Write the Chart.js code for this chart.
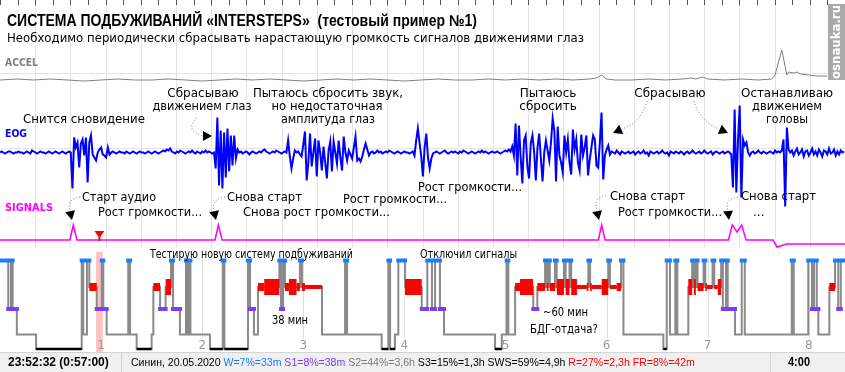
<!DOCTYPE html>
<html>
<head>
<meta charset="utf-8">
<script src="https://cdn.jsdelivr.net/npm/chart.js@4.4.1/dist/chart.umd.min.js"></script>
<style>
html, body { margin: 0; padding: 0; background: #fff; overflow: hidden; }
#wrap { width: 845px; height: 372px; }
</style>
</head>
<body>
<div id="wrap"><canvas id="sleepChart" width="845" height="372"></canvas></div>
<script>

// recording length in minutes (x axis), hour marks every 60 min
const RECORD_END_MIN = 501.5;
const HOUR_LABELS = ['1', '2', '3', '4', '5', '6', '7', '8'];

// EOG, one sample per minute
const EOG_STEP_MIN = 1;
const EOG_VALUES = [
    0, 1, 0, -1, 0, 1, 1, 0, -1, 0,
    0, 1, 0, 0, -1, 0, 1, 0, -1, 2,
    1, 0, -1, 0, 1, 0, 0, -1, 0, 1,
    0, -1, 0, 1, 0, -1, 0, 1, 0, -1,
    0, 1, 0,
    -36, 15, 5, 10, -15, 9, 13, -3, 15, -30, 10, 17, -2, -5, -8, 0, 3, 5, -2, -3, -5, 5, -2, 0, 1,
    0, -1, 0, 1, 0, 0, -1, 1, 0, -1,
    0, 1, 0, -1, 0, 1, 0, 0, -1, 0,
    1, 0, -1, 0, 1, 0, -1, 0, 1, 2,
    1, 3, 2, 4, 1, 0, -1, 1, 0, 2,
    1, 0, -1, 0, 1, 0, 2, 0, -1, 1,
    0, -1, 1, 0, 2, 0, 1, 0, -1, 0,
    -16, 35, -33, 22, -36, 20, -25, 24, -19, 17, -13, 17, -6, 3, 0,
    1, -1, 0, 1, 0, -2, 0, 1, 0, -1,
    0, 1, 0, 2, 3, 1, 0, -1, 0, 1,
    0, 2, 1, 0, -1, 0, 1,
    0, 12, -4, -16, -6, 2, 0, 1, -2, -4,
    8, 21, -28, -10, 19, -14, 0, 14, -24, 12,
    0, -18, 6, -10, -26, 2, 11, -19, 11, 0,
    -11, 12, -5, -18, 16, 0, -8, 2, -2, -6,
    5, 16, -8, -6, -9, -4, 3, 9, 3, -3,
    0, 1, -1, 0, 2, 0,
    1, -1, 0, 1, 0, 2, 1, 0, -1, 0, 1, 0, -1, 0, 1, 0, 0, -1, 0, 1,
    -3, 12, 24, 10, -4, -24, 5, 19, -5, -16, -6, -1, 0,
    1, 0, -1, 0, 1, 2, 0, -1, 0, 1,
    0, 1, 0, -1, 1, 0, 2, 1, 0, -1,
    0, 1, 0, -1, 0, 1, 0, 2, 0, 1,
    0, -1, 0, 1, 0, 0, 1, 0, -1, 0,
    1, 2, 1, 3,
    1, 6, -3, 29, -23, 27, -4, -31, 12, 17,
    -14, -26, 9, 17, 1, -28, 5, 19, -6, -29,
    0, 12, 2, -8, 10, 34, 22, -29, 26, -3,
    -10, -20, 17, 0, 13, -10, -22, 23, 3, 13,
    -10, -18, 18, -3, 5, 17, -23, -7, 5, 17,
    13, -13, -15, 10, 40, -27, -3, 3, 7, -2,
    1,
    0, -1, 2, 0, -2, 1, 0, -1, 0, 1,
    -1, 0, 1, -2, 0, 1, -1, 0, 2, -1,
    0, -3, 1, 0, -1, 0, 1, -1, 0, 2,
    0, -1, 0, -3, 1, 0, -1, 1, 0, -1,
    1, 0, -2, 0, 1, -1, 0, 2, 0, -1,
    0, 1, -1, 0, 2, 0, -1, 0, 1, -2,
    0, 1, 0, -1, 0, 1, -1, 0, 1, 0,
    -2, -35, 43, -40, 13, 47, -45, 13, 7, 10, 0, -3,
    0, 1, -1, 0, 2, 0, -1, 1, 0, -1, 0, 1, 0, -1, 2, 0, 1, 0,
    2, 13, -54, 25, 3, 0,
    2, -3, 1, 4, -2, 0, 3, -4, 1, 2,
    -3, 0, 4, -2, 1, -3, 3, 0, -4, 2,
    1, -2, 4, -1, 0, 3, -3, 1, -2, 2,
    0, 1
];

// accelerometer
const ACCEL_MIN = [0, 10, 20, 30, 40, 50, 60, 70, 80, 90, 100, 110, 120, 130, 140, 150, 160, 170, 180, 190,
    200, 210, 220, 230, 240, 250, 260, 270, 280, 290, 300, 310, 320, 330, 340, 350,
    354, 357, 360, 365, 375, 385, 395, 405, 410, 413, 417, 420, 430, 440, 450, 458, 460, 464, 467, 468,
    471, 473, 475, 480, 485, 491];
const ACCEL_VALUES = [0, 1, 0, 1, 0, -1, 0, 1, 0, 0, 1, 0, -1, 0, 1, 0, 1, 0, -1, 0,
    1, 0, 1, 0, -1, 0, 1, 0, 0, 1, 0, 1, 0, 1, 0, 1,
    2, 5, 1, 0, 0, 1, 0, 1, 2, 1, 3, 1, 0, 1, 0, 1, 5, 30, 5, 8,
    7, 8, 6, 5, 4, 4];

// wake-up signal volume
const SIGNAL_MIN = [0, 41.5, 43.5, 45.7, 127.6, 129.6, 131.8, 355.1, 357.1, 359.1, 432.3, 434.6, 437.4, 440.2, 442.8, 458.8, 461.2, 466.9, 501.5];
const SIGNAL_VALUES = [0, 0, 15, 0, 0, 15, 0, 0, 15, 0, 0, 15, 8, 15, 0, 0, -7, -4, -4];

// hypnogram: stage starts (min) and stages
const HYPNO_START = [
    0, 4.9, 6.5, 7.5, 10, 21.4, 48.5, 49.4, 51.6, 53,
    57.4, 60.4, 61.3, 63.3, 76.1, 77.2, 81.1, 90, 91, 95,
    98.3, 101.5, 102.7, 106.8, 110.4, 111.3, 111.9, 113, 124.6, 132.2,
    133.2, 147.2, 148.4, 150.7, 153.1, 165.8, 166.8, 168, 169.1, 178,
    179.2, 191.1, 204.8, 206, 226.5, 230.5, 231.5, 234.4, 236.4, 240.4,
    250.3, 253.6, 256.4, 258.2, 261.1, 263.5, 293.8, 297.8, 300.7, 301.7,
    305.7, 316.5, 318.9, 323.5, 324.5, 325.5, 326.3, 329.4, 330.4, 334.7,
    335.7, 338, 339, 349.2, 350.2, 361, 362, 368.6, 370, 393.7,
    395.7, 397.6, 400.8, 402, 408.5, 410.8, 411.8, 413, 414, 417.6,
    418.6, 422.9, 423.9, 428, 429, 430.9, 431.9, 436.2, 440.2, 442,
    469.9, 471.1, 479.7, 481.9, 483.1, 484.7, 485.7, 492.2, 495.6, 497.5,
    499
];
const HYPNO_STAGE = [
    'W', 'S1', 'W', 'S1', 'S2', 'S3', 'W', 'S2', 'W', 'R',
    'S1', 'W', 'S1', 'S2', 'W', 'S2', 'S3', 'S2', 'R', 'S1',
    'R', 'W', 'S1', 'S2', 'W', 'S2', 'W', 'S2', 'S3', 'W',
    'S3', 'W', 'S1', 'S2', 'R', 'W', 'S1', 'W', 'R', 'W',
    'R', 'S2', 'W', 'S2', 'S3', 'W', 'S3', 'S2', 'W', 'R',
    'S1', 'W', 'S1', 'W', 'S1', 'S2', 'S3', 'S2', 'W', 'S2',
    'R', 'S1', 'R', 'W', 'R', 'W', 'R', 'W', 'R', 'W',
    'R', 'W', 'R', 'W', 'R', 'W', 'R', 'W', 'S2', 'S3',
    'W', 'S2', 'W', 'S2', 'R', 'W', 'R', 'W', 'R', 'W',
    'R', 'W', 'R', 'W', 'S1', 'W', 'S1', 'S2', 'W', 'S2',
    'W', 'S2', 'W', 'S1', 'W', 'S1', 'S2', 'R', 'W', 'S1',
    'W'
];

// REM density (1 weak, 2 normal, 3 strong)
const REM_FROM = [50, 88, 98, 150, 156.8, 168, 171.5, 176, 181, 238, 304, 308.6, 316.4, 330.6, 342.4, 348.2, 351.2, 357.1, 361, 366, 407, 413.5, 419.5, 426, 490];
const REM_TO = [57.4, 98, 102, 156.8, 166, 171.5, 176, 181, 192, 252, 308.6, 316.4, 330.6, 342.4, 348.2, 351.2, 357.1, 361, 366, 370, 413.5, 419.5, 426, 429, 497];
const REM_LEVEL = [2, 2, 3, 2, 3, 2, 3, 2, 1, 3, 2, 3, 2, 3, 1, 2, 1, 3, 1, 2, 3, 2, 1, 3, 2];

// cursor position (0:57:00)
const CURSOR_MIN = 57;
const CURSOR_WINDOW_MIN = 4;

const STATUS_PARTS = [
    ['Синин, 20.05.2020 ', '#000'],
    ['W=7%=33m ', '#1a7cff'],
    ['S1=8%=38m ', '#7a3cff'],
    ['S2=44%=3,6h ', '#7a7a7a'],
    ['S3=15%=1,3h ', '#000'],
    ['SWS=59%=4,9h ', '#000'],
    ['R=27%=2,3h ', '#ff0000'],
    ['FR=8%=42m', '#ff0000']
];


// layout / style
const STAGE_ROW = { W: 0, R: 26.5, S1: 48.5, S2: 74, S3: 88.5 };
const REM_WIDTH = { 1: 4, 2: 8, 3: 16 };
const FONT = '"DejaVu Sans", sans-serif';

function stageEnd(i) {
    return i + 1 < HYPNO_START.length ? HYPNO_START[i + 1] : RECORD_END_MIN;
}

function stageLine(stage) {
    const pts = [];
    HYPNO_STAGE.forEach((s, i) => {
        if (s !== stage) return;
        const y = STAGE_ROW[s];
        pts.push({ x: HYPNO_START[i], y: y }, { x: stageEnd(i), y: y }, { x: stageEnd(i), y: null });
    });
    return pts;
}

function remLine(level) {
    const pts = [];
    HYPNO_STAGE.forEach((s, i) => {
        if (s !== 'R') return;
        const a = HYPNO_START[i], b = stageEnd(i);
        REM_FROM.forEach((f, k) => {
            if (REM_LEVEL[k] !== level) return;
            const x0 = Math.max(a, f), x1 = Math.min(b, REM_TO[k]);
            if (x1 <= x0) return;
            pts.push({ x: x0, y: STAGE_ROW.R }, { x: x1, y: STAGE_ROW.R }, { x: x1, y: null });
        });
    });
    return pts;
}

function hypnoSteps() {
    const pts = HYPNO_START.map((t, i) => ({ x: t, y: STAGE_ROW[HYPNO_STAGE[i]] }));
    pts.push({ x: RECORD_END_MIN, y: STAGE_ROW[HYPNO_STAGE[HYPNO_STAGE.length - 1]] });
    return pts;
}

function dottedArrow(ctx, x0, y0, cx, cy, x1, y1, tx, ty) {
    ctx.save();
    ctx.strokeStyle = '#777';
    ctx.lineWidth = 1;
    ctx.setLineDash([1, 2]);
    ctx.beginPath();
    ctx.moveTo(x0, y0);
    ctx.quadraticCurveTo(cx, cy, x1, y1);
    ctx.stroke();
    ctx.setLineDash([]);
    const ang = Math.atan2(ty - y1, tx - x1);
    const len = 9, half = 5;
    const bx = tx - Math.cos(ang) * len, by = ty - Math.sin(ang) * len;
    ctx.fillStyle = '#000';
    ctx.beginPath();
    ctx.moveTo(tx, ty);
    ctx.lineTo(bx - Math.sin(ang) * half, by + Math.cos(ang) * half);
    ctx.lineTo(bx + Math.sin(ang) * half, by - Math.cos(ang) * half);
    ctx.closePath();
    ctx.fill();
    ctx.restore();
}

function label(ctx, text, x, y, maxW, align) {
    ctx.textAlign = align || 'left';
    ctx.fillText(text, x, y, maxW);
}

const overlayPlugin = {
    id: 'overlay',
    beforeDraw(chart) {
        const ctx = chart.ctx;
        ctx.save();
        ctx.fillStyle = '#fff';
        ctx.fillRect(0, 0, chart.width, chart.height);
        ctx.restore();
    },
    beforeDatasetsDraw(chart) {
        const ctx = chart.ctx;
        const xs = chart.scales.x;
        const W = chart.width;
        ctx.save();

        // background grid
        ctx.strokeStyle = '#e4e4e4';
        ctx.lineWidth = 1;
        for (let k = 1; k < 24; k++) {
            const gx = Math.round(k * W / 24) + 0.5;
            ctx.beginPath(); ctx.moveTo(gx, 0); ctx.lineTo(gx, 248); ctx.stroke();
        }
        [73.5, 148.5].forEach(gy => {
            ctx.beginPath(); ctx.moveTo(0, gy); ctx.lineTo(W, gy); ctx.stroke();
        });

        // top ruler
        ctx.strokeStyle = '#555';
        for (let k = 0; k <= 48; k++) {
            const gx = Math.round(k * W / 48) + 0.5;
            ctx.beginPath(); ctx.moveTo(gx, 0); ctx.lineTo(gx, 5); ctx.stroke();
        }

        // hour lines in hypnogram
        ctx.strokeStyle = '#dedede';
        HOUR_LABELS.forEach((h, i) => {
            const hx = Math.round(xs.getPixelForValue((i + 1) * 60)) + 0.5;
            ctx.beginPath(); ctx.moveTo(hx, 258); ctx.lineTo(hx, 338); ctx.stroke();
        });

        // cursor band
        const b0 = xs.getPixelForValue(CURSOR_MIN), b1 = xs.getPixelForValue(CURSOR_MIN + CURSOR_WINDOW_MIN);
        ctx.fillStyle = '#ffc2c2';
        ctx.fillRect(b0, 252, b1 - b0, 100);
        ctx.restore();
    },
    afterDatasetsDraw(chart) {
        const ctx = chart.ctx;
        const xs = chart.scales.x;
        const W = chart.width;
        ctx.save();
        ctx.textBaseline = 'alphabetic';

        // title
        ctx.fillStyle = '#000';
        ctx.font = 'bold 16px "Liberation Sans", sans-serif';
        label(ctx, 'СИСТЕМА ПОДБУЖИВАНИЙ «INTERSTEPS»  (тестовый пример №1)', 7, 26, 470);
        ctx.font = '12.5px ' + FONT;
        label(ctx, 'Необходимо периодически сбрасывать нарастающую громкость сигналов движениями глаз', 7, 42, 577);

        // channel names
        ctx.font = 'bold 10px ' + FONT;
        ctx.fillStyle = '#808080';
        label(ctx, 'ACCEL', 5, 66, 33);
        ctx.fillStyle = '#0000ff';
        label(ctx, 'EOG', 5, 137, 22);
        ctx.fillStyle = '#ff00ff';
        label(ctx, 'SIGNALS', 5, 211, 48);

        // annotations
        ctx.fillStyle = '#000';
        ctx.font = '12px ' + FONT;
        label(ctx, 'Снится сновидение', 23, 123, 122);
        label(ctx, 'Сбрасываю', 203, 97, 74, 'center');
        label(ctx, 'движением глаз', 202, 110, 99, 'center');
        label(ctx, 'Пытаюсь сбросить звук,', 328, 97, 150, 'center');
        label(ctx, 'но недостаточная', 327, 110, 111, 'center');
        label(ctx, 'амплитуда глаз', 328, 123, 94, 'center');
        label(ctx, 'Пытаюсь', 548, 97, 58, 'center');
        label(ctx, 'сбросить', 548, 110, 58, 'center');
        label(ctx, 'Сбрасываю', 670, 97, 74, 'center');
        label(ctx, 'Останавливаю', 787, 97, 92, 'center');
        label(ctx, 'движением', 787, 110, 70, 'center');
        label(ctx, 'головы', 787, 123, 42, 'center');

        label(ctx, 'Старт аудио', 82, 201, 74);
        label(ctx, 'Рост громкости...', 98, 216, 104);
        label(ctx, 'Снова старт', 227, 201, 75);
        label(ctx, 'Снова рост громкости...', 243, 216, 147);
        label(ctx, 'Рост громкости...', 343, 203, 104);
        label(ctx, 'Рост громкости...', 418, 191, 104);
        label(ctx, 'Снова старт', 610, 200, 75);
        label(ctx, 'Рост громкости...', 618, 216, 104);
        label(ctx, 'Снова старт', 741, 200, 75);
        label(ctx, '...', 753, 216, 20);

        label(ctx, 'Тестирую новую систему подбуживаний', 150, 258, 203);
        label(ctx, 'Отключил сигналы', 420, 258, 97);
        label(ctx, '38 мин', 272, 324, 36);
        label(ctx, '~60 мин', 543, 316, 45);
        label(ctx, 'БДГ-отдача?', 530, 333, 68);

        // arrows
        dottedArrow(ctx, 197, 118, 184, 130, 203, 136, 212, 136);
        dottedArrow(ctx, 647, 101, 642, 122, 622, 129, 613, 133);
        dottedArrow(ctx, 694, 101, 700, 122, 719, 129, 728, 133);
        dottedArrow(ctx, 80, 197, 66, 199, 70, 211, 72, 220);
        dottedArrow(ctx, 225, 197, 211, 199, 214, 211, 216, 220);
        dottedArrow(ctx, 606, 195, 593, 198, 597, 211, 599, 220);
        dottedArrow(ctx, 738, 197, 724, 199, 728, 211, 729, 220);

        // cursor triangle
        const cx = xs.getPixelForValue(CURSOR_MIN + CURSOR_WINDOW_MIN / 2);
        ctx.fillStyle = '#ff0000';
        ctx.beginPath();
        ctx.moveTo(cx - 5, 231); ctx.lineTo(cx + 5, 231); ctx.lineTo(cx, 238);
        ctx.closePath(); ctx.fill();
        ctx.fillRect(cx - 1, 236, 2, 5);

        // hour labels
        ctx.fillStyle = '#9a9a9a';
        ctx.font = '12px ' + FONT;
        HOUR_LABELS.forEach((h, i) => {
            label(ctx, h, xs.getPixelForValue((i + 1) * 60), 349, 12, 'center');
        });

        // watermark
        ctx.fillStyle = '#aaaaaa';
        ctx.fillRect(828, 4, 17, 76);
        ctx.save();
        ctx.translate(837, 42);
        ctx.rotate(-Math.PI / 2);
        ctx.fillStyle = '#fff';
        ctx.font = 'bold 13px ' + FONT;
        ctx.textBaseline = 'middle';
        label(ctx, 'osnauka.ru', 0, 0, 74, 'center');
        ctx.restore();

        // status bar
        ctx.fillStyle = '#f0f0f0';
        ctx.fillRect(0, 352, W, 20);
        ctx.strokeStyle = '#d4d4d4';
        ctx.beginPath(); ctx.moveTo(0, 352.5); ctx.lineTo(W, 352.5); ctx.stroke();
        [121.5, 770.5].forEach(sx => {
            ctx.beginPath(); ctx.moveTo(sx, 353); ctx.lineTo(sx, 372); ctx.stroke();
        });
        ctx.fillStyle = '#000';
        ctx.font = 'bold 12px "Liberation Sans", sans-serif';
        label(ctx, '23:52:32 (0:57:00)', 8, 366, 102);
        label(ctx, '4:00', 788, 366, 22);

        ctx.font = '12px "Liberation Sans", sans-serif';
        const total = STATUS_PARTS.reduce((s, p) => s + ctx.measureText(p[0]).width, 0);
        const size = 12 * 564 / total;
        ctx.font = size.toFixed(2) + 'px "Liberation Sans", sans-serif';
        let px = 131;
        STATUS_PARTS.forEach(p => {
            ctx.fillStyle = p[1];
            label(ctx, p[0], px, 366);
            px += ctx.measureText(p[0]).width;
        });

        ctx.restore();
    }
};

const ctx = document.getElementById('sleepChart').getContext('2d');

const chart = new Chart(ctx, {
    type: 'line',
    data: {
        datasets: [
            {
                label: 'W',
                data: stageLine('W'),
                yAxisID: 'yHyp',
                borderColor: '#1a7cff',
                borderWidth: 4,
                borderCapStyle: 'square',
                order: 1
            },
            {
                label: 'S1',
                data: stageLine('S1'),
                yAxisID: 'yHyp',
                borderColor: '#7a3cff',
                borderWidth: 4,
                borderCapStyle: 'square',
                order: 2
            },
            {
                label: 'R weak',
                data: remLine(1),
                yAxisID: 'yHyp',
                borderColor: '#ff0000',
                borderWidth: REM_WIDTH[1],
                order: 3
            },
            {
                label: 'R',
                data: remLine(2),
                yAxisID: 'yHyp',
                borderColor: '#ff0000',
                borderWidth: REM_WIDTH[2],
                order: 3
            },
            {
                label: 'R strong',
                data: remLine(3),
                yAxisID: 'yHyp',
                borderColor: '#ff0000',
                borderWidth: REM_WIDTH[3],
                order: 3
            },
            {
                label: 'S3',
                data: stageLine('S3'),
                yAxisID: 'yHyp',
                borderColor: '#000000',
                borderWidth: 2.5,
                order: 4
            },
            {
                label: 'hypnogram',
                data: hypnoSteps(),
                yAxisID: 'yHyp',
                stepped: true,
                borderColor: '#8a8a8a',
                borderWidth: 2,
                order: 10
            },
            {
                label: 'SIGNALS',
                data: SIGNAL_MIN.map((t, i) => ({ x: t, y: SIGNAL_VALUES[i] })),
                yAxisID: 'ySig',
                borderColor: '#ff00ff',
                borderWidth: 1.5,
                order: 6
            },
            {
                label: 'EOG',
                data: EOG_VALUES.map((v, i) => ({ x: i * EOG_STEP_MIN, y: v })),
                yAxisID: 'yEog',
                borderColor: '#0000ff',
                borderWidth: 2,
                order: 7
            },
            {
                label: 'ACCEL',
                data: ACCEL_MIN.map((t, i) => ({ x: t, y: ACCEL_VALUES[i] })),
                yAxisID: 'yAcc',
                borderColor: '#808080',
                borderWidth: 1,
                order: 8
            }
        ]
    },
    options: {
        responsive: false,
        animation: false,
        devicePixelRatio: 1,
        events: [],
        layout: { padding: 0 },
        elements: {
            point: { radius: 0 },
            line: { tension: 0, fill: false }
        },
        plugins: {
            legend: { display: false },
            tooltip: { enabled: false },
            title: { display: false }
        },
        scales: {
            x: { type: 'linear', min: 0, max: RECORD_END_MIN, display: false },
            yAcc: { type: 'linear', min: -292, max: 80, display: false },
            yEog: { type: 'linear', min: -219.5, max: 152.5, display: false },
            ySig: { type: 'linear', min: -132, max: 240, display: false },
            yHyp: { type: 'linear', reverse: true, min: -260.5, max: 111.5, display: false }
        }
    },
    plugins: [overlayPlugin]
});
</script>
</body>
</html>
